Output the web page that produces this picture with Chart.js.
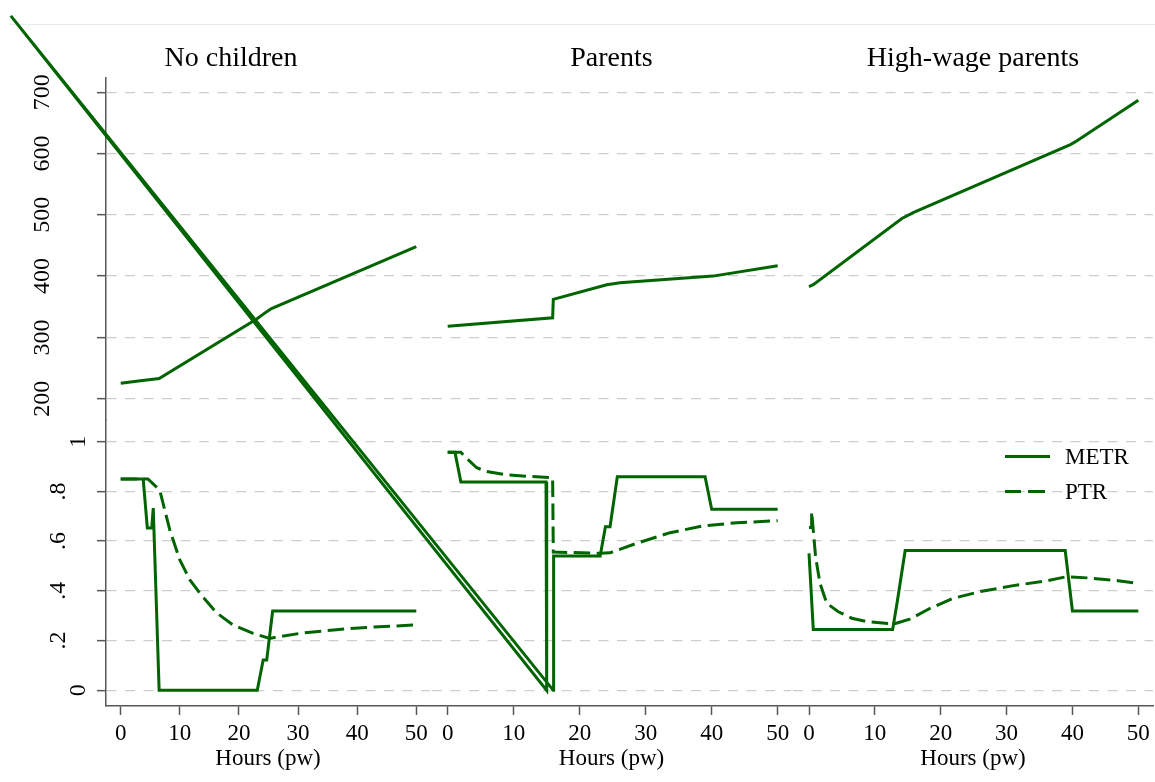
<!DOCTYPE html>
<html>
<head>
<meta charset="utf-8">
<title>METR and PTR by hours worked</title>
<script src="https://cdn.jsdelivr.net/npm/chart.js@4/dist/chart.umd.min.js"></script>
<style>
  body { margin: 0; background: #fff; }
  #figure { position: relative; width: 1155px; height: 782px; font-family: 'Liberation Serif', 'Times New Roman', serif; }
  #figure canvas { position: absolute; left: 0; top: 0; }
  .frame { position: absolute; left: 10px; right: 0; top: 24px; border-top: 1px solid #e4ecec; }
  .legend-row { position: absolute; left: 1005px; height: 26px; width: 140px; font-size: 23px; color: #000; }
  .legend-row .sample { position: absolute; left: 0; top: 11.5px; width: 45px; height: 3px; }
  .legend-row .solid { background: #006400; }
  .legend-row .dashed { background: repeating-linear-gradient(90deg, #006400 0 16.5px, transparent 16.5px 23px); }
  .legend-row span { position: absolute; left: 60px; top: 0; line-height: 26px; white-space: nowrap; }
</style>
</head>
<body>
<div id="figure">
  <div class="frame"></div>
  <canvas id="panel-nochildren" width="1155" height="782"></canvas>
  <canvas id="panel-parents" width="1155" height="782"></canvas>
  <canvas id="panel-highwage" width="1155" height="782"></canvas>
  <div class="legend-row" style="top: 443.5px;"><div class="sample solid"></div><span>METR</span></div>
  <div class="legend-row" style="top: 478.5px;"><div class="sample dashed"></div><span>PTR</span></div>
</div>
<script>
// axis ticks
const HOUR_TICKS = [0, 10, 20, 30, 40, 50];
const INCOME_TICKS = [200, 300, 400, 500, 600, 700];
const RATE_TICKS = [0, 0.2, 0.4, 0.6, 0.8, 1];
const RATE_LABELS = ['0', '.2', '.4', '.6', '.8', '1'];

// No children
const NC_INCOME_HOURS = [0, 3, 6.5, 23, 24.7, 25.5, 50];
const NC_INCOME = [225, 229, 233, 330, 342, 347, 448];
const NC_METR_HOURS = [0, 3.8, 4.5, 5.25, 5.5, 6.5, 23.1, 24.1, 24.7, 25.7, 50];
const NC_METR = [0.85, 0.85, 0.653, 0.653, 0.733, 0, 0, 0.122, 0.122, 0.319, 0.319];
const NC_PTR_HOURS = [0, 4.6, 6.6, 8.3, 10, 11.7, 13.4, 16.2, 19, 22.4, 25.2, 26.9, 30.3, 36, 41.6, 50];
const NC_PTR = [0.85, 0.85, 0.805, 0.645, 0.524, 0.444, 0.39, 0.312, 0.263, 0.229, 0.209, 0.216, 0.229, 0.243, 0.253, 0.263];

// Parents (the stray point at -66 h is what draws the long diagonal)
const PA_INCOME_HOURS = [0, 15.9, 16, 24.1, 26.1, 40.2, 50];
const PA_INCOME = [318, 332, 362, 386, 389, 400, 417];
const PA_METR_HOURS = [0, 1.1, 2.0, 14.9, 15.0, -66.2, 16.0, 16.05, 23.1, 23.9, 24.6, 25.7, 39.0, 40.0, 50];
const PA_METR = [0.957, 0.957, 0.838, 0.838, 0, 2.712, 0, 0.54, 0.54, 0.658, 0.658, 0.859, 0.859, 0.728, 0.728];
const PA_PTR_HOURS = [0, 2.0, 3.0, 4.4, 5.9, 8.9, 12.5, 15.9, 16.0, 23.1, 24.6, 28.6, 33.7, 38.7, 43.8, 50];
const PA_PTR = [0.957, 0.957, 0.93, 0.895, 0.88, 0.867, 0.86, 0.855, 0.556, 0.551, 0.553, 0.591, 0.634, 0.661, 0.674, 0.682];

// High-wage parents
const HW_INCOME_HOURS = [0, 0.65, 14.1, 15.9, 39.6, 40.4, 50];
const HW_INCOME = [383, 386, 494, 504, 614, 619, 687];
const HW_METR_HOURS = [0, 0.65, 12.7, 13.4, 14.6, 38.9, 40.0, 50];
const HW_METR = [0.551, 0.245, 0.245, 0.356, 0.562, 0.562, 0.319, 0.319];
const HW_PTR_HOURS = [0, 0.4, 0.4, 1.0, 1.67, 2.7, 4.45, 6.5, 8.8, 12.9, 15.3, 18.4, 21.9, 26, 31, 36.1, 39.1, 42.4, 46.9, 50];
const HW_PTR = [0.655, 0.655, 0.718, 0.537, 0.43, 0.35, 0.316, 0.29, 0.276, 0.267, 0.286, 0.33, 0.37, 0.397, 0.421, 0.44, 0.457, 0.452, 0.441, 0.43];

const GREEN = '#006400';
const AXIS_GREY = '#575757';
const GRID_GREY = '#cdcdcd';
const SERIF = "'Liberation Serif', 'Times New Roman', serif";
const FIG_W = 1155;
const FIG_H = 782;
const PLOT_TOP = 78;
const PLOT_BOTTOM = 706;

function xy(hours, values) {
  return hours.map((h, i) => ({ x: h, y: values[i] }));
}

function pinTicks(values) {
  return (scale) => { scale.ticks = values.map((value) => ({ value })); };
}

function greenLine(label, data, yAxisID, extra) {
  return {
    label,
    data,
    yAxisID,
    borderColor: GREEN,
    backgroundColor: GREEN,
    borderWidth: 3,
    pointRadius: 0,
    tension: 0,
    ...extra,
  };
}

function makePanel(canvasId, p) {
  const withAxis = p.axisWidth > 0;
  const yBase = {
    type: 'linear',
    position: 'left',
    stack: 'rows',
    afterFit: (scale) => { scale.width = p.axisWidth; },
    border: { display: withAxis, color: AXIS_GREY, width: 1.5, dash: [10, 8.5] },
    grid: {
      color: GRID_GREY,
      lineWidth: 1.3,
      drawTicks: withAxis,
      tickLength: 9,
      tickColor: AXIS_GREY,
      tickWidth: 1.5,
      tickBorderDash: [],
    },
  };

  return new Chart(document.getElementById(canvasId), {
    type: 'line',
    data: {
      datasets: [
        greenLine('Income', xy(p.incomeHours, p.income), 'income'),
        greenLine('METR', xy(p.metrHours, p.metr), 'rate', { clip: false }),
        greenLine('PTR', xy(p.ptrHours, p.ptr), 'rate', { borderDash: [16.5, 6.5] }),
      ],
    },
    options: {
      responsive: false,
      animation: false,
      events: [],
      layout: { padding: { left: p.padLeft, right: FIG_W - p.areaRight, top: 0, bottom: 0 } },
      scales: {
        x: {
          type: 'linear',
          min: p.xMin,
          max: p.xMax,
          afterBuildTicks: pinTicks(HOUR_TICKS),
          afterFit: (scale) => { scale.height = FIG_H - PLOT_BOTTOM; },
          border: { color: AXIS_GREY, width: 1.5 },
          grid: { drawOnChartArea: false, tickLength: 9, tickColor: AXIS_GREY, tickWidth: 1.5 },
          ticks: { autoSkip: false, maxRotation: 0, padding: 5, color: '#000', font: { family: SERIF, size: 23 } },
          title: {
            display: true,
            text: 'Hours (pw)',
            color: '#000',
            font: { family: SERIF, size: 23 },
            padding: { top: 0, bottom: 9.5 },
          },
        },
        rate: {
          ...yBase,
          stackWeight: 286,
          min: -0.063,
          max: 1.087,
          afterBuildTicks: pinTicks(RATE_TICKS),
          ticks: {
            display: withAxis,
            autoSkip: false,
            minRotation: 90,
            maxRotation: 90,
            crossAlign: 'center',
            padding: 29,
            color: '#000',
            font: { family: SERIF, size: 24, lineHeight: 1.667 },
            // one-character labels sit nearer the axis, as in the Stata export
            callback: (value, i) => (RATE_LABELS[i].length === 1 ? ['', RATE_LABELS[i]] : RATE_LABELS[i]),
          },
        },
        income: {
          ...yBase,
          stackWeight: 342,
          min: 165.2,
          max: 723.3,
          afterBuildTicks: pinTicks(INCOME_TICKS),
          ticks: {
            display: withAxis,
            autoSkip: false,
            minRotation: 90,
            maxRotation: 90,
            crossAlign: 'center',
            padding: 36.5,
            color: '#000',
            font: { family: SERIF, size: 24 },
          },
        },
      },
      plugins: {
        colors: { enabled: false },
        legend: { display: false },
        tooltip: { enabled: false },
        title: {
          display: true,
          text: p.title,
          color: '#000',
          font: { family: SERIF, size: 28, weight: 'normal' },
          padding: { top: 42, bottom: PLOT_TOP - 42 - 28 * 1.2 },
        },
      },
    },
  });
}

makePanel('panel-nochildren', {
  title: 'No children',
  padLeft: 32, axisWidth: 74, areaRight: 430, xMin: -2.49, xMax: 52.32,
  incomeHours: NC_INCOME_HOURS, income: NC_INCOME,
  metrHours: NC_METR_HOURS, metr: NC_METR,
  ptrHours: NC_PTR_HOURS, ptr: NC_PTR,
});

makePanel('panel-parents', {
  title: 'Parents',
  padLeft: 432, axisWidth: 0, areaRight: 791, xMin: -2.38, xMax: 52.02,
  incomeHours: PA_INCOME_HOURS, income: PA_INCOME,
  metrHours: PA_METR_HOURS, metr: PA_METR,
  ptrHours: PA_PTR_HOURS, ptr: PA_PTR,
});

makePanel('panel-highwage', {
  title: 'High-wage parents',
  padLeft: 793, axisWidth: 0, areaRight: 1153, xMin: -2.43, xMax: 52.23,
  incomeHours: HW_INCOME_HOURS, income: HW_INCOME,
  metrHours: HW_METR_HOURS, metr: HW_METR,
  ptrHours: HW_PTR_HOURS, ptr: HW_PTR,
});
</script>
</body>
</html>
